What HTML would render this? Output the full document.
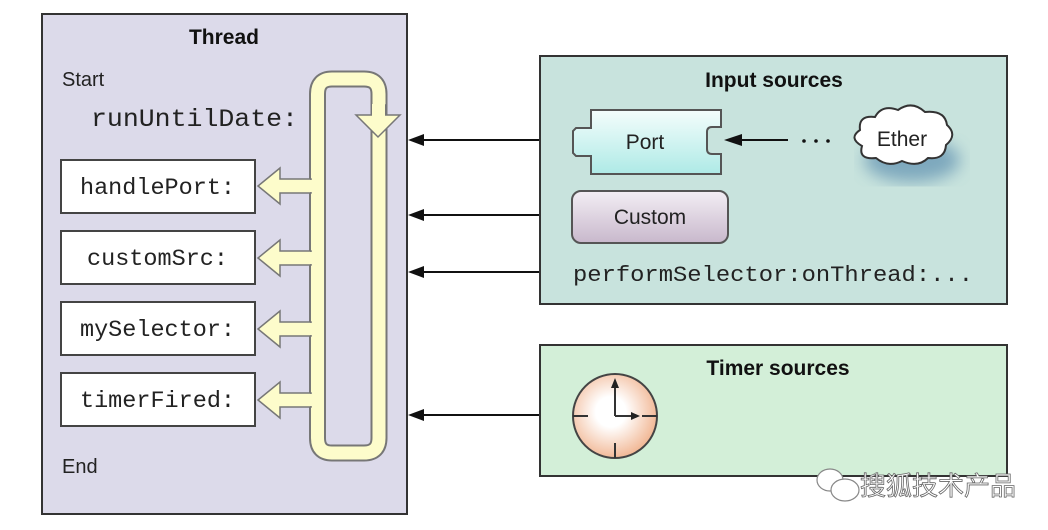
<!DOCTYPE html>
<html><head><meta charset="utf-8"><style>
html,body{margin:0;padding:0;background:#fff;width:1048px;height:530px;overflow:hidden}
</style></head><body>
<svg width="1048" height="530" viewBox="0 0 1048 530" xmlns="http://www.w3.org/2000/svg" font-family="Liberation Sans, sans-serif">
<defs>
<linearGradient id="port" x1="0" y1="0" x2="0" y2="1"><stop offset="0" stop-color="#f4fdfc"/><stop offset="1" stop-color="#aeeae6"/></linearGradient>
<linearGradient id="cust" x1="0" y1="0" x2="0" y2="1"><stop offset="0" stop-color="#f3eef4"/><stop offset="1" stop-color="#c8b8cc"/></linearGradient>
<radialGradient id="clk" cx="0.45" cy="0.45" r="0.6"><stop offset="0.3" stop-color="#ffffff"/><stop offset="1" stop-color="#f0b08a"/></radialGradient>
<filter id="blur"><feGaussianBlur stdDeviation="8"/></filter>
</defs>
<rect x="42" y="14" width="365" height="500" fill="#dcdaea" stroke="#333" stroke-width="2"/>
<text x="224" y="44" font-size="21" font-weight="bold" text-anchor="middle" fill="#111">Thread</text>
<text x="62" y="86" font-size="20" fill="#222">Start</text>
<text x="91" y="126" font-size="25" font-family="Liberation Mono, monospace" fill="#222" textLength="207" lengthAdjust="spacingAndGlyphs">runUntilDate:</text>
<text x="62" y="473" font-size="20" fill="#222">End</text>
<g stroke="#444" stroke-width="2" fill="#fff">
<rect x="61" y="160" width="194" height="53"/>
<rect x="61" y="231" width="194" height="53"/>
<rect x="61" y="302" width="194" height="53"/>
<rect x="61" y="373" width="194" height="53"/>
</g>
<g font-size="23" font-family="Liberation Mono, monospace" fill="#222">
<text x="80" y="194" textLength="155" lengthAdjust="spacingAndGlyphs">handlePort:</text>
<text x="87" y="265" textLength="141" lengthAdjust="spacingAndGlyphs">customSrc:</text>
<text x="80" y="336" textLength="155" lengthAdjust="spacingAndGlyphs">mySelector:</text>
<text x="80" y="407" textLength="155" lengthAdjust="spacingAndGlyphs">timerFired:</text>
</g>
<g fill="none" stroke-linejoin="round">
<path d="M317.5 400 L317.5 438 Q317.5 453 332 453 L364 453 Q379 453 379 438 L379 94 Q379 79 364 79 L332 79 Q317.5 79 317.5 94 L317.5 400" stroke="#777" stroke-width="17"/>
<path d="M317.5 400 L317.5 438 Q317.5 453 332 453 L364 453 Q379 453 379 438 L379 94 Q379 79 364 79 L332 79 Q317.5 79 317.5 94 L317.5 400" stroke="#fdfccb" stroke-width="13"/>
</g>
<g fill="#fdfccb" stroke="#777" stroke-width="1.5">
<polygon points="356,115 372,115 372,105 385,105 385,115 400,115 378,137"/>
<polygon points="311,179 280,179 280,168 258,186 280,204 280,193 311,193"/>
<polygon points="311,251 280,251 280,240 258,258 280,276 280,265 311,265"/>
<polygon points="311,322 280,322 280,311 258,329 280,347 280,336 311,336"/>
<polygon points="311,393 280,393 280,382 258,400 280,418 280,407 311,407"/>
</g>
<g stroke="none" fill="#fdfccb">
<rect x="310" y="180" width="3" height="12"/><rect x="310" y="252" width="3" height="12"/><rect x="310" y="323" width="3" height="12"/><rect x="310" y="394" width="3" height="12"/>
<rect x="372" y="104" width="13" height="12"/>
</g>
<g stroke="#111" stroke-width="2">
<line x1="540" y1="140" x2="420" y2="140"/><line x1="540" y1="215" x2="420" y2="215"/><line x1="540" y1="272" x2="420" y2="272"/><line x1="540" y1="415" x2="420" y2="415"/>
</g>
<g fill="#111">
<polygon points="408,140 424,134 424,146"/><polygon points="408,215 424,209 424,221"/><polygon points="408,272 424,266 424,278"/><polygon points="408,415 424,409 424,421"/>
</g>
<rect x="540" y="56" width="467" height="248" fill="#c8e3dd" stroke="#333" stroke-width="2"/>
<text x="774" y="87" font-size="21" font-weight="bold" text-anchor="middle" fill="#111">Input sources</text>
<path d="M591 110 L721 110 L721 127 L712 127 Q707 127 707 132 L707 149 Q707 154 712 154 L721 154 L721 174 L591 174 L591 156 L576 156 L573 153 L573 131 L576 128 L591 128 Z" fill="url(#port)" stroke="#555" stroke-width="2"/>
<text x="645" y="149" font-size="21" text-anchor="middle" fill="#222">Port</text>
<line x1="735" y1="140" x2="788" y2="140" stroke="#111" stroke-width="2"/>
<polygon points="724,140 742,134 742,146" fill="#111"/>
<g fill="#111"><circle cx="804" cy="141" r="1.8"/><circle cx="816" cy="141" r="1.8"/><circle cx="828" cy="141" r="1.8"/></g>
<ellipse cx="912" cy="160" rx="48" ry="22" fill="#5f90b0" opacity="0.7" filter="url(#blur)"/>
<path d="M860 130 Q858 115 875 117 Q882 104 898 110 Q912 100 925 112 Q945 110 947 125 Q958 135 946 145 Q945 160 928 158 Q918 168 902 161 Q888 168 876 158 Q858 160 862 146 Q848 138 860 130 Z" fill="#fff" stroke="#333" stroke-width="2"/>
<text x="902" y="146" font-size="21" text-anchor="middle" fill="#222">Ether</text>
<rect x="572" y="191" width="156" height="52" rx="9" fill="url(#cust)" stroke="#555" stroke-width="2"/>
<text x="650" y="224" font-size="21" text-anchor="middle" fill="#222">Custom</text>
<text x="573" y="281" font-size="22" font-family="Liberation Mono, monospace" fill="#222" textLength="400" lengthAdjust="spacingAndGlyphs">performSelector:onThread:...</text>
<rect x="540" y="345" width="467" height="131" fill="#d3efd8" stroke="#333" stroke-width="2"/>
<text x="778" y="375" font-size="21" font-weight="bold" text-anchor="middle" fill="#111">Timer sources</text>
<circle cx="615" cy="416" r="42" fill="url(#clk)" stroke="#444" stroke-width="2"/>
<g stroke="#333" stroke-width="2">
<line x1="573" y1="416" x2="588" y2="416"/><line x1="642" y1="416" x2="657" y2="416"/><line x1="615" y1="443" x2="615" y2="458"/>
<line x1="615" y1="416" x2="615" y2="382"/><line x1="615" y1="416" x2="636" y2="416"/>
</g>
<polygon points="615,378 611,388 619,388" fill="#222"/><polygon points="640,416 631,412 631,420" fill="#222"/>
<g fill="#fff" stroke="#888" stroke-width="1.2">
<ellipse cx="830" cy="480" rx="13" ry="11"/><ellipse cx="845" cy="490" rx="14" ry="11"/>
</g>
<text x="860" y="495" font-size="26" fill="#fff" stroke="#666" stroke-width="0.8" font-family="Liberation Sans, Noto Sans CJK SC, sans-serif">搜狐技术产品</text>
</svg>
</body></html>
